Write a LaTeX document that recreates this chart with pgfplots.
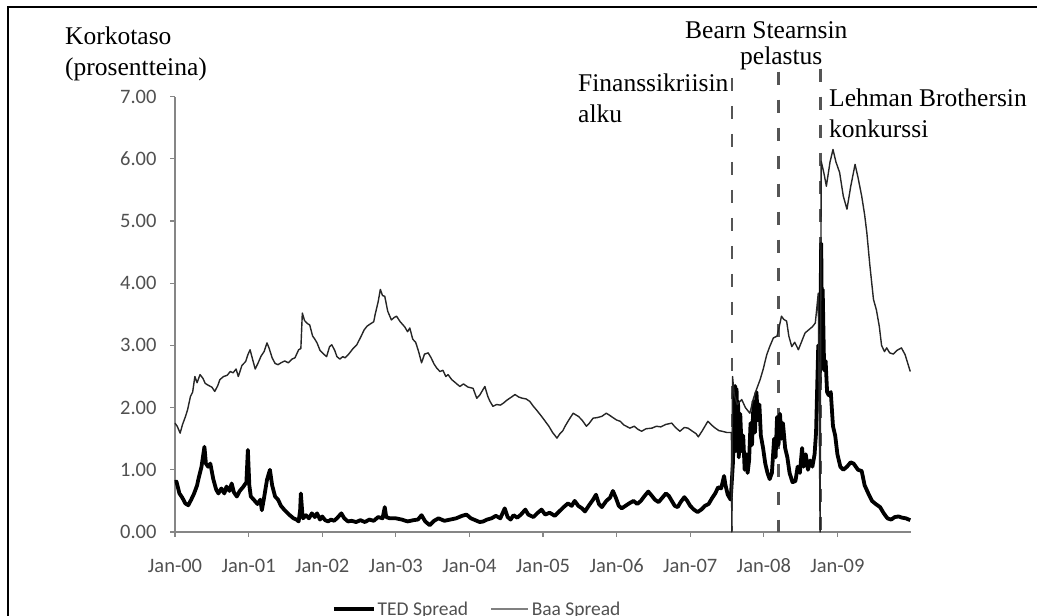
\documentclass[border=0pt]{standalone}
\usepackage{fontspec}
\setmainfont{Carlito}
\newfontfamily\seriffont{Liberation Serif}
\usepackage{pgfplots}
\usepackage{pgfplotstable}
\pgfplotsset{compat=1.18}
\definecolor{axgray}{RGB}{134,134,134}
\definecolor{lblgray}{RGB}{80,80,80}
\definecolor{dashgray}{RGB}{85,85,85}

\pgfplotstableread{
t v
2000.00 0.80
2000.02 0.81
2000.06 0.62
2000.10 0.55
2000.14 0.46
2000.18 0.43
2000.22 0.52
2000.26 0.62
2000.30 0.75
2000.32 0.86
2000.36 1.05
2000.40 1.37
2000.42 1.10
2000.45 1.05
2000.48 1.10
2000.52 0.85
2000.56 0.68
2000.59 0.62
2000.63 0.70
2000.67 0.62
2000.70 0.73
2000.74 0.66
2000.77 0.78
2000.80 0.64
2000.84 0.57
2000.88 0.66
2000.93 0.73
2000.97 0.80
2000.99 1.32
2001.01 0.75
2001.03 0.57
2001.07 0.52
2001.12 0.45
2001.16 0.52
2001.18 0.35
2001.21 0.55
2001.25 0.84
2001.29 1.00
2001.32 0.75
2001.36 0.57
2001.40 0.52
2001.44 0.42
2001.49 0.35
2001.55 0.28
2001.61 0.22
2001.65 0.20
2001.68 0.17
2001.70 0.35
2001.71 0.62
2001.73 0.30
2001.74 0.22
2001.78 0.27
2001.82 0.22
2001.86 0.30
2001.90 0.24
2001.93 0.30
2001.97 0.20
2002.00 0.25
2002.04 0.19
2002.08 0.17
2002.12 0.20
2002.16 0.18
2002.20 0.22
2002.26 0.30
2002.30 0.22
2002.35 0.17
2002.40 0.18
2002.46 0.16
2002.52 0.19
2002.58 0.16
2002.64 0.20
2002.70 0.18
2002.76 0.24
2002.82 0.22
2002.85 0.40
2002.87 0.24
2002.92 0.22
2003.00 0.22
2003.08 0.20
2003.16 0.17
2003.24 0.19
2003.30 0.20
2003.35 0.27
2003.40 0.17
2003.46 0.11
2003.52 0.18
2003.58 0.22
2003.66 0.18
2003.74 0.20
2003.82 0.22
2003.90 0.26
2003.96 0.28
2004.02 0.22
2004.08 0.19
2004.14 0.16
2004.19 0.17
2004.24 0.20
2004.30 0.22
2004.36 0.26
2004.42 0.22
2004.48 0.38
2004.52 0.24
2004.56 0.20
2004.60 0.27
2004.65 0.23
2004.70 0.28
2004.76 0.36
2004.80 0.28
2004.87 0.24
2004.92 0.30
2004.98 0.36
2005.03 0.28
2005.09 0.31
2005.16 0.26
2005.22 0.33
2005.28 0.40
2005.34 0.46
2005.39 0.42
2005.43 0.50
2005.48 0.42
2005.53 0.38
2005.57 0.33
2005.62 0.42
2005.68 0.52
2005.72 0.60
2005.76 0.45
2005.80 0.40
2005.86 0.50
2005.91 0.55
2005.95 0.66
2005.99 0.55
2006.03 0.42
2006.07 0.38
2006.12 0.42
2006.17 0.46
2006.23 0.50
2006.28 0.45
2006.33 0.50
2006.38 0.58
2006.43 0.65
2006.48 0.58
2006.52 0.52
2006.57 0.48
2006.62 0.55
2006.67 0.62
2006.71 0.58
2006.75 0.50
2006.79 0.42
2006.83 0.40
2006.87 0.48
2006.92 0.56
2006.96 0.50
2007.00 0.42
2007.05 0.36
2007.10 0.32
2007.15 0.36
2007.20 0.42
2007.25 0.45
2007.30 0.55
2007.34 0.62
2007.38 0.72
2007.42 0.70
2007.46 0.90
2007.48 0.75
2007.51 0.60
2007.55 0.52
2007.58 1.10
2007.61 2.35
2007.62 1.30
2007.63 2.30
2007.64 1.35
2007.65 2.10
2007.66 1.20
2007.68 1.90
2007.70 1.30
2007.72 1.55
2007.74 1.00
2007.76 1.25
2007.78 0.95
2007.80 1.15
2007.82 1.75
2007.84 1.40
2007.86 2.10
2007.88 1.60
2007.90 2.25
2007.92 1.80
2007.94 2.05
2007.96 1.55
2007.99 1.35
2008.02 1.10
2008.05 0.95
2008.08 0.85
2008.11 0.95
2008.14 1.50
2008.16 1.20
2008.18 1.85
2008.20 1.40
2008.22 1.90
2008.24 1.50
2008.26 1.75
2008.29 1.35
2008.32 1.20
2008.35 0.95
2008.39 0.80
2008.43 0.82
2008.46 1.05
2008.49 0.95
2008.52 1.35
2008.54 1.05
2008.57 1.25
2008.60 1.00
2008.63 1.15
2008.66 1.05
2008.69 1.25
2008.71 1.60
2008.74 3.00
2008.76 2.40
2008.78 4.64
2008.79 3.30
2008.80 3.90
2008.82 2.60
2008.84 2.75
2008.86 2.25
2008.88 2.20
2008.91 2.25
2008.94 1.70
2008.97 1.55
2009.00 1.25
2009.04 1.05
2009.08 1.00
2009.13 1.05
2009.18 1.12
2009.22 1.10
2009.28 1.00
2009.33 0.98
2009.37 0.75
2009.42 0.62
2009.47 0.50
2009.52 0.45
2009.58 0.40
2009.63 0.30
2009.68 0.22
2009.73 0.20
2009.78 0.24
2009.83 0.25
2009.88 0.23
2009.93 0.22
2009.99 0.19
}\tedtable

\pgfplotstableread{
t v
2000.00 1.75
2000.03 1.70
2000.07 1.59
2000.10 1.72
2000.14 1.85
2000.17 1.96
2000.21 2.18
2000.24 2.25
2000.27 2.50
2000.30 2.40
2000.34 2.53
2000.38 2.47
2000.41 2.39
2000.45 2.36
2000.50 2.33
2000.54 2.26
2000.58 2.35
2000.61 2.45
2000.66 2.50
2000.71 2.52
2000.75 2.58
2000.79 2.56
2000.83 2.62
2000.86 2.50
2000.91 2.68
2000.96 2.74
2000.99 2.85
2001.02 2.93
2001.06 2.75
2001.09 2.62
2001.13 2.72
2001.17 2.83
2001.21 2.90
2001.25 3.04
2001.28 2.95
2001.32 2.80
2001.36 2.71
2001.40 2.69
2001.44 2.72
2001.49 2.75
2001.54 2.72
2001.59 2.78
2001.63 2.80
2001.68 2.93
2001.71 2.95
2001.73 3.52
2001.76 3.40
2001.80 3.35
2001.83 3.33
2001.87 3.15
2001.90 3.10
2001.93 3.04
2001.97 2.92
2002.02 2.86
2002.06 2.82
2002.10 2.98
2002.13 3.01
2002.17 2.92
2002.20 2.82
2002.24 2.78
2002.28 2.82
2002.31 2.80
2002.36 2.86
2002.42 2.95
2002.47 3.01
2002.53 3.15
2002.57 3.25
2002.61 3.31
2002.66 3.35
2002.70 3.38
2002.72 3.50
2002.76 3.70
2002.79 3.90
2002.82 3.80
2002.85 3.79
2002.89 3.55
2002.94 3.41
2002.98 3.45
2003.01 3.47
2003.06 3.38
2003.12 3.30
2003.16 3.22
2003.19 3.28
2003.23 3.10
2003.27 3.05
2003.31 2.90
2003.35 2.72
2003.39 2.86
2003.44 2.88
2003.48 2.80
2003.52 2.70
2003.56 2.63
2003.60 2.58
2003.64 2.60
2003.68 2.50
2003.71 2.53
2003.76 2.45
2003.81 2.40
2003.87 2.34
2003.92 2.38
2003.98 2.33
2004.05 2.31
2004.10 2.15
2004.14 2.20
2004.18 2.28
2004.21 2.34
2004.25 2.18
2004.28 2.10
2004.32 2.02
2004.37 2.05
2004.42 2.04
2004.46 2.07
2004.51 2.12
2004.56 2.16
2004.62 2.21
2004.67 2.17
2004.72 2.15
2004.77 2.14
2004.82 2.10
2004.87 2.02
2004.92 1.95
2004.98 1.86
2005.03 1.78
2005.08 1.70
2005.13 1.60
2005.19 1.51
2005.23 1.58
2005.27 1.63
2005.30 1.70
2005.35 1.80
2005.41 1.91
2005.45 1.88
2005.48 1.86
2005.53 1.80
2005.59 1.70
2005.63 1.75
2005.68 1.83
2005.74 1.84
2005.80 1.86
2005.86 1.91
2005.90 1.88
2005.95 1.84
2006.00 1.80
2006.05 1.78
2006.10 1.72
2006.18 1.67
2006.24 1.70
2006.29 1.65
2006.34 1.62
2006.40 1.66
2006.48 1.67
2006.54 1.70
2006.60 1.69
2006.67 1.73
2006.75 1.75
2006.80 1.68
2006.86 1.62
2006.92 1.68
2006.97 1.67
2007.03 1.62
2007.08 1.58
2007.11 1.53
2007.16 1.62
2007.21 1.72
2007.24 1.78
2007.29 1.72
2007.34 1.67
2007.39 1.63
2007.43 1.62
2007.50 1.60
2007.56 1.60
2007.565 0.00
2007.575 2.50
2007.60 2.20
2007.64 2.05
2007.70 2.13
2007.75 2.00
2007.81 1.91
2007.86 2.15
2007.90 2.29
2007.95 2.45
2007.99 2.61
2008.04 2.85
2008.08 2.98
2008.13 3.12
2008.18 3.15
2008.21 3.30
2008.24 3.47
2008.27 3.42
2008.31 3.39
2008.34 3.15
2008.38 2.98
2008.42 3.05
2008.47 2.93
2008.52 3.08
2008.56 3.20
2008.61 3.25
2008.66 3.30
2008.70 3.36
2008.74 3.84
2008.765 0.00
2008.78 5.96
2008.82 5.75
2008.85 5.56
2008.90 5.95
2008.94 6.15
2008.98 5.95
2009.03 5.78
2009.08 5.40
2009.13 5.19
2009.18 5.55
2009.24 5.91
2009.28 5.70
2009.33 5.40
2009.37 5.10
2009.40 4.81
2009.44 4.30
2009.49 3.74
2009.53 3.57
2009.57 3.30
2009.60 3.00
2009.64 2.90
2009.67 2.96
2009.71 2.88
2009.76 2.86
2009.81 2.92
2009.87 2.96
2009.92 2.85
2009.99 2.58
}\baatable

\begin{document}
\begin{tikzpicture}[x=1pt,y=1pt]
\useasboundingbox (0,0) rectangle (1037,616);
\draw[black, line width=2.2pt] (8,0) -- (8,609) -- (1037,609);
\begin{axis}[
  at={(175pt,84pt)}, anchor=south west,
  scale only axis, width=736pt, height=435.4pt,
  xmin=2000, xmax=2010, ymin=0, ymax=7,
  axis x line=bottom, axis y line=left,
  axis line style={-, draw=axgray, line width=1.3pt},
  xtick={2000,2001,2002,2003,2004,2005,2006,2007,2008,2009},
  xticklabels={Jan-00,Jan-01,Jan-02,Jan-03,Jan-04,Jan-05,Jan-06,Jan-07,Jan-08,Jan-09},
  ytick={0,1,2,3,4,5,6,7},
  tick align=outside, major tick length=5pt,
  tick style={draw=axgray, line width=1.1pt},
  ticklabel style={font=\fontsize{20.5}{22}\selectfont, text=lblgray},
  xticklabel style={yshift=-19pt, text height=13pt, text depth=0pt},
  yticklabel style={xshift=-10pt, /pgf/number format/.cd, fixed, fixed zerofill, precision=2, assume math mode=true},
  clip=false,
  legend style={at={(0.2133,-0.1769)}, anchor=west, draw=none, fill=none, inner sep=0pt,
    font=\fontsize{19.5}{22}\selectfont, text=lblgray, legend columns=2,
    /tikz/every even column/.append style={column sep=20pt}},
  legend image code/.code={\draw[#1] (0pt,0pt) -- (40pt,0pt);},
]
\addplot[dashgray, line width=2.4pt, dash pattern=on 13pt off 15pt, forget plot] coordinates {(2007.568,7.3) (2007.568,0)};
\addplot[dashgray, line width=2.4pt, dash pattern=on 13pt off 15pt, forget plot] coordinates {(2008.197,7.4) (2008.197,0)};
\addplot[dashgray, line width=2.4pt, dash pattern=on 13pt off 15pt, forget plot] coordinates {(2008.77,7.45) (2008.77,0)};
\addplot[black, line width=3.8pt, line join=round, legend image code/.code={\draw[black, line width=3.5pt] (0pt,0pt) -- (40pt,0pt);}] table[x=t,y=v] {\tedtable};
\addlegendentry{TED Spread}
\addplot[black!85, line width=1.4pt, line join=round,
  legend image code/.code={\draw[gray, line width=2.6pt] (0pt,0pt) -- (37pt,0pt);}] table[x=t,y=v] {\baatable};
\addlegendentry{Baa Spread}
\end{axis}
\begin{scope}[every node/.style={inner sep=0pt, anchor=base west, font=\seriffont\fontsize{25.5}{30}\selectfont}]
\node at (65,571) {Korkotaso};
\node at (65,540) {(prosentteina)};
\node at (685,577) {Bearn Stearnsin};
\node at (740,551) {pelastus};
\node at (578,524) {Finanssikriisin};
\node at (578,493) {alku};
\node at (829,509) {Lehman Brothersin};
\node at (829,478) {konkurssi};
\end{scope}
\end{tikzpicture}
\end{document}
